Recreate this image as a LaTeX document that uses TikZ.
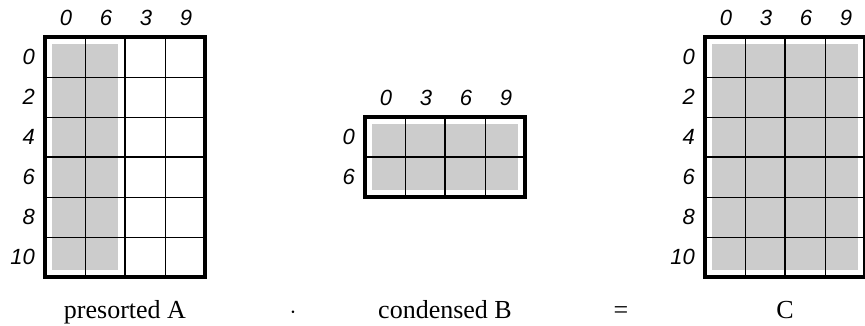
\documentclass[tikz,border=0pt]{standalone}
\usepackage{fontspec}
\setmainfont{Liberation Serif}
\newfontfamily\idxfont{Liberation Sans}
\usepackage{xcolor}
\usepackage{tikz}

\definecolor{cellgray}{RGB}{204,204,204}

\begin{document}
\begin{tikzpicture}[x=1pt,y=-1pt,
  frame/.style={line width=3.5pt},
  gridline/.style={line width=1pt},
  midline/.style={line width=1.7pt},
  block/.style={fill=cellgray,draw=none},
  idx/.style={font=\idxfont\itshape\fontsize{22}{22}\selectfont,inner sep=0pt},
  caption/.style={font=\fontsize{26}{26}\selectfont,anchor=base,inner sep=0pt}
]
\useasboundingbox (0,0) rectangle (865,325);

% presorted A
\fill[block] (52,44) rectangle (118,270);
\foreach \x in {85,165} \draw[gridline] (\x,37) -- (\x,277);
\foreach \y in {77,117,197,237} \draw[gridline] (45,\y) -- (205,\y);
\draw[midline] (125,37) -- (125,277);
\draw[midline] (45,157) -- (205,157);
\draw[frame] (45,37) rectangle (205,277);
\foreach \c/\lbl in {1/0,2/6,3/3,4/9}
  \node[idx] (acol\c) at (26+40*\c,18) {\lbl};
\foreach \r/\lbl in {1/0,2/2,3/4,4/6,5/8,6/10}
  \node[idx,anchor=east] (arow\r) at (35,17+40*\r) {\lbl};

% condensed B
\fill[block] (372,124) rectangle (518,190);
\foreach \x in {405,485} \draw[gridline] (\x,117) -- (\x,197);
\draw[midline] (445,117) -- (445,197);
\draw[midline] (365,157) -- (525,157);
\draw[frame] (365,117) rectangle (525,197);
\foreach \c/\lbl in {1/0,2/3,3/6,4/9}
  \node[idx] (bcol\c) at (346+40*\c,98) {\lbl};
\foreach \r/\lbl in {1/0,2/6}
  \node[idx,anchor=east] (brow\r) at (355,97+40*\r) {\lbl};

% C
\fill[block] (712,44) rectangle (858,270);
\foreach \x in {745,825} \draw[gridline] (\x,37) -- (\x,277);
\foreach \y in {77,117,197,237} \draw[gridline] (705,\y) -- (865,\y);
\draw[midline] (785,37) -- (785,277);
\draw[midline] (705,157) -- (865,157);
\draw[frame] (705,37) rectangle (865,277);
\foreach \c/\lbl in {1/0,2/3,3/6,4/9}
  \node[idx] (ccol\c) at (686+40*\c,18) {\lbl};
\foreach \r/\lbl in {1/0,2/2,3/4,4/6,5/8,6/10}
  \node[idx,anchor=east] (crow\r) at (695,17+40*\r) {\lbl};

% product line
\node[caption] (capA) at (125,318) {presorted A};
\node[caption] (dot) at (293,318) {$\cdot$};
\node[caption] (capB) at (445,318) {condensed B};
\node[caption] (eq) at (621,318) {=};
\node[caption] (capC) at (785,318) {C};

\end{tikzpicture}
\end{document}
